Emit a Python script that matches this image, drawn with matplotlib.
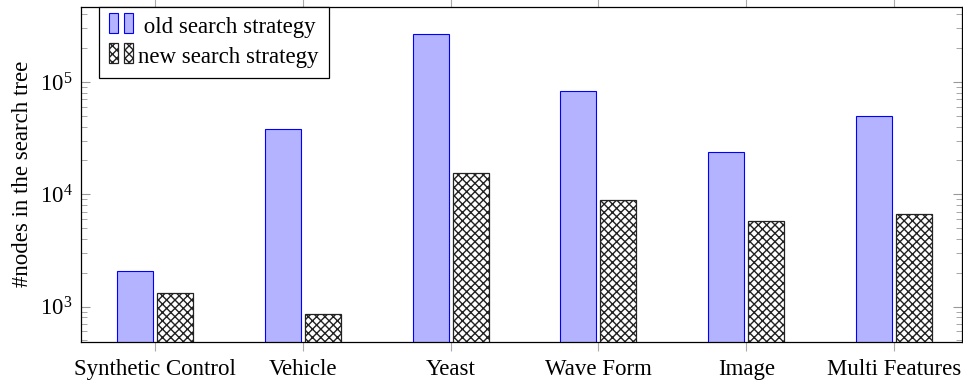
import matplotlib
matplotlib.use("Agg")
import matplotlib.pyplot as plt
import numpy as np
from matplotlib.legend_handler import HandlerBase
from matplotlib.patches import Rectangle

categories = ["Synthetic Control", "Vehicle", "Yeast", "Wave Form", "Image", "Multi Features"]
old_strategy = [2080, 38400, 266000, 83600, 23600, 50100]
new_strategy = [1327, 852, 15560, 8890, 5810, 6670]
series_labels = [" old search strategy", "new search strategy"]
ylabel = "#nodes in the search tree"

plt.rcParams["font.family"] = ["Liberation Serif", "DejaVu Serif"]
plt.rcParams["mathtext.fontset"] = "custom"
plt.rcParams["mathtext.rm"] = "Liberation Serif"
plt.rcParams["mathtext.it"] = "Liberation Serif:italic"
plt.rcParams["hatch.linewidth"] = 1.0

FS = 16.5
W, H = 963, 383
fig = plt.figure(figsize=(W / 100, H / 100), dpi=100)
ax = fig.add_axes([81 / W, (H - 342) / H, (962 - 81) / W, (342 - 6.5) / H])

x = np.arange(len(categories))
bw = 0.244
off = 0.1353
old_kw = dict(facecolor="#b3b3ff", edgecolor="blue", linewidth=0.8)
new_kw = dict(facecolor="white", edgecolor="#222222", linewidth=0.9, hatch="xxxx")
b1 = ax.bar(x - off, old_strategy, width=bw, **old_kw)
b2 = ax.bar(x + off, new_strategy, width=bw, **new_kw)

ax.set_yscale("log")
ax.set_ylim(483, 471000)
ax.set_xlim(-0.5, 5.46)
ax.set_xticks(x)
ax.set_xticklabels(categories, fontsize=FS)
ax.set_ylabel(ylabel, fontsize=FS, labelpad=5)

ax.tick_params(axis="x", which="both", direction="out", length=6.5, color="#aaaaaa",
               top=True, bottom=True, pad=6)
ax.tick_params(axis="x", which="minor", length=0)
ax.tick_params(axis="y", which="major", direction="in", length=6.5, color="#999999",
               left=True, right=True, labelsize=FS, pad=6)
ax.tick_params(axis="y", which="minor", direction="in", length=4.3, color="#999999",
               left=True, right=True)
for s in ax.spines.values():
    s.set_linewidth(0.9)
    s.set_color("black")


class DoubleBar(HandlerBase):
    def __init__(self, kw):
        super().__init__()
        self.kw = kw

    def create_artists(self, legend, orig_handle, xdescent, ydescent, width, height,
                       fontsize, trans):
        w = width * 0.36
        gap = width * 0.3
        hh = height * 1.25
        y0 = -ydescent - (hh - height) / 2 + height * 0.1
        r1 = Rectangle((-xdescent, y0), w, hh, transform=trans, **self.kw)
        r2 = Rectangle((-xdescent + w + gap, y0), w, hh, transform=trans, **self.kw)
        return [r1, r2]


leg = ax.legend([b1, b2], series_labels, loc="upper left", bbox_to_anchor=(18 / 881, 1.0),
                fontsize=FS, frameon=True, fancybox=False, edgecolor="black",
                framealpha=1, borderaxespad=0, handlelength=1.0, handletextpad=0.25,
                labelspacing=0.4, borderpad=0.45,
                handler_map={b1: DoubleBar(dict(facecolor="#b3b3ff", edgecolor="blue", linewidth=0.8)),
                             b2: DoubleBar(dict(facecolor="white", edgecolor="#222222", linewidth=0.9, hatch="xxxx"))})
leg.get_frame().set_linewidth(0.9)

fig.savefig("out.png", dpi=100)
